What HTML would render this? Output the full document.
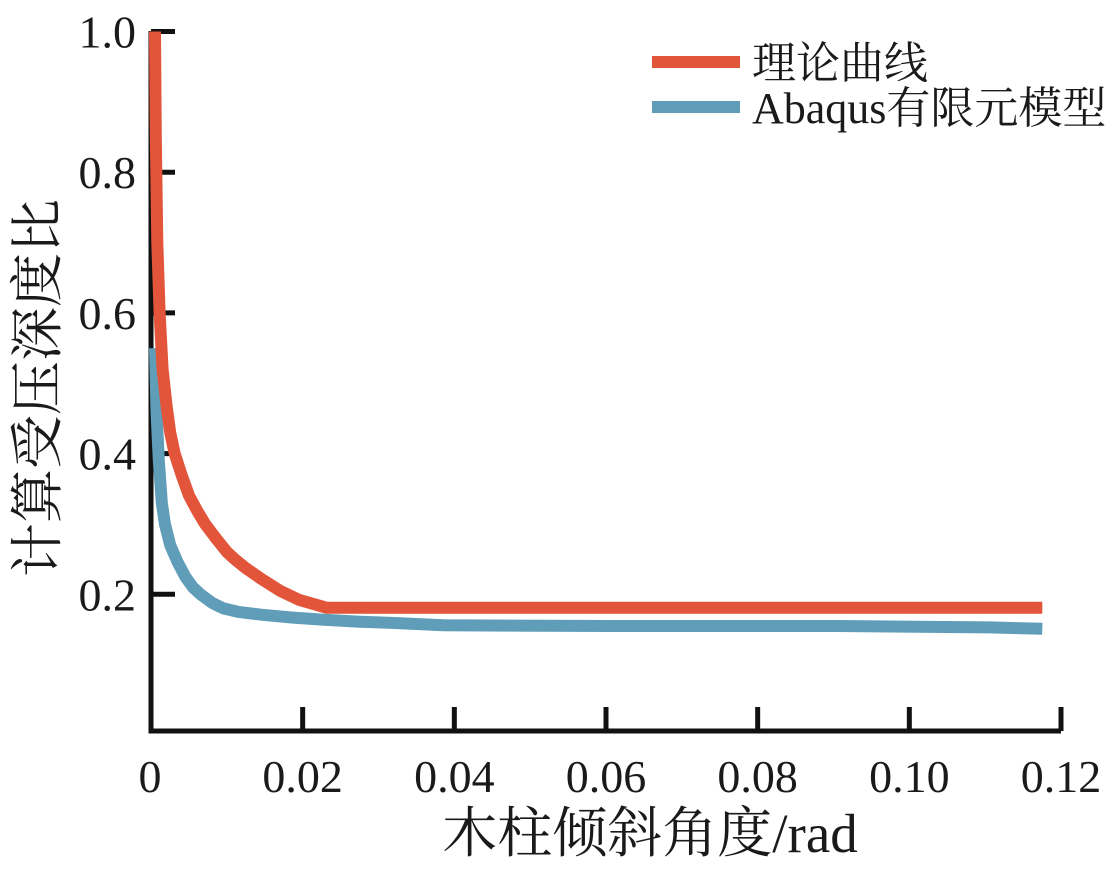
<!DOCTYPE html>
<html><head><meta charset="utf-8"><style>
body{margin:0;background:#fff;width:1118px;height:866px;overflow:hidden}
svg text{font-family:"Liberation Serif","Noto Serif CJK SC",serif;fill:#1a1a1a}
</style></head><body>
<svg id="chart" width="1118" height="866" xmlns="http://www.w3.org/2000/svg">
<g id="axes"></g>
<g id="series"></g>
<g>
<line x1="652" y1="62" x2="740" y2="62" stroke="#e2553a" stroke-width="12"/>
<text x="752" y="78" font-size="44">理论曲线</text>
<line x1="652" y1="107" x2="740" y2="107" stroke="#5f9db8" stroke-width="12"/>
<text x="752" y="123" font-size="44">Abaqus有限元模型</text>
</g>
<text x="650" y="852" font-size="55" text-anchor="middle">木柱倾斜角度/rad</text>
<text transform="translate(56,388) rotate(-90)" font-size="54" text-anchor="middle">计算受压深度比</text>
</svg>
<script>
const xTicks=[0,0.02,0.04,0.06,0.08,0.10,0.12];
const xTickLabels=["0","0.02","0.04","0.06","0.08","0.10","0.12"];
const yTicks=[0.2,0.4,0.6,0.8,1.0];
const yTickLabels=["0.2","0.4","0.6","0.8","1.0"];
const theoryX=[0,0.0001,0.0003,0.0006,0.001,0.0015,0.002,0.0026,0.0035,0.0045,0.0055,0.0066,0.008,0.0095,0.0105,0.012,0.014,0.0165,0.019,0.0226,0.05,0.08,0.117];
const theoryY=[1.0,0.85,0.70,0.60,0.52,0.47,0.43,0.40,0.37,0.34,0.32,0.30,0.28,0.26,0.25,0.237,0.222,0.205,0.192,0.181,0.181,0.181,0.181];
const abaqusX=[0,0.0002,0.0005,0.0009,0.0013,0.002,0.003,0.004,0.005,0.006,0.0075,0.009,0.011,0.014,0.018,0.022,0.027,0.032,0.038,0.06,0.09,0.11,0.117];
const abaqusY=[0.55,0.46,0.39,0.33,0.30,0.27,0.245,0.225,0.21,0.2,0.188,0.18,0.175,0.171,0.167,0.164,0.161,0.159,0.156,0.155,0.155,0.153,0.151];
const NS="http://www.w3.org/2000/svg";
const xs=v=>151+v*(1061-151)/0.12;
const ys=v=>735-v*703.5;
const axes=document.getElementById('axes');
function mk(tag,attrs,parent){const e=document.createElementNS(NS,tag);for(const k in attrs)e.setAttribute(k,attrs[k]);parent.appendChild(e);return e;}
let p=mk('path',{d:`M151,31 V731 H1061`,fill:'none',stroke:'#111','stroke-width':5},axes);


xTicks.forEach((t,i)=>{
 if(i>0){const l=mk('line',{x1:xs(t),x2:xs(t),y1:731,y2:707,stroke:'#111','stroke-width':5},axes);
 
 }
 const tx=mk('text',{x:i==0?150:xs(t),y:792,'font-size':46,'text-anchor':'middle'},axes);tx.textContent=xTickLabels[i];
 
 
});
yTicks.forEach((t,i)=>{
 const l=mk('line',{x1:151,x2:175,y1:ys(t),y2:ys(t),stroke:'#111','stroke-width':5},axes);
 
 
 const tx=mk('text',{x:136,y:ys(t)+16,'font-size':46,'text-anchor':'end'},axes);tx.textContent=yTickLabels[i];
 
 
});
const ser=document.getElementById('series');
function line(X,Y,c,name){
 const d=X.map((x,i)=>(i?'L':'M')+(xs(x)+4).toFixed(1)+','+ys(Y[i]).toFixed(1)).join(' ');
 const e=mk('path',{d:d,fill:'none',stroke:c,'stroke-width':12,'stroke-linejoin':'round'},ser);
 
 
}
line(abaqusX,abaqusY,'#5f9db8','abaqus-line');
line(theoryX,theoryY,'#e2553a','theory-line');
</script>
</body></html>
